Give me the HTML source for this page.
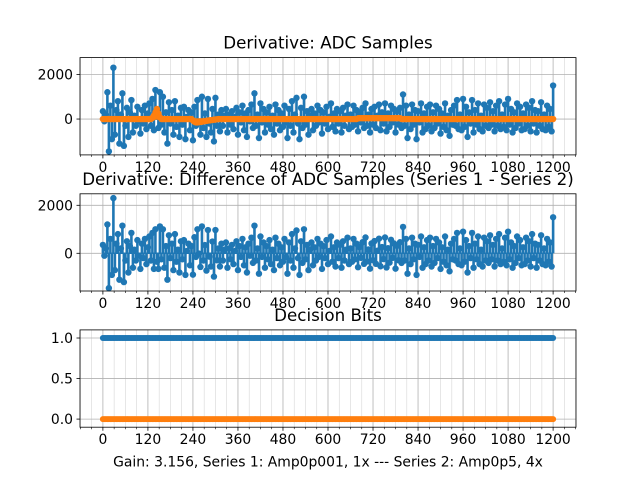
<!DOCTYPE html>
<html><head><meta charset="utf-8"><style>
body{margin:0;background:#fff}
svg{display:block;font-family:"DejaVu Sans","Liberation Sans",sans-serif}
</style></head><body>
<svg id="fig" width="640" height="480" viewBox="0 0 640 480" xmlns="http://www.w3.org/2000/svg"></svg>
<script>
const sampleStep = 4;
const adcSeries1 = [350,-100,200,1200,-1450,600,-900,2300,-700,400,800,-1100,200,1150,-1200,-300,500,-800,300,850,
-600,150,-300,550,-100,-650,400,-200,600,-450,250,700,-300,900,-500,1300,100,-400,1200,-250,
1000,-600,300,-1100,750,-200,400,-700,800,-350,150,-800,500,-250,550,-900,100,400,-500,300,
-950,550,-300,850,-150,-700,1000,-400,250,-800,900,-200,-600,450,-1000,950,-300,200,-550,400,
-300,150,450,-600,200,-250,350,-450,100,500,-700,300,-150,600,-500,250,-800,400,-100,650,
-400,1150,-300,200,-850,700,-150,450,-600,300,-250,550,-450,150,-700,650,-200,400,-500,250,
-350,600,-150,-850,450,-300,800,-600,200,950,-200,-900,500,-400,1000,-250,350,-700,150,450,
-500,250,-300,600,-150,400,-650,300,-200,550,-450,100,700,-350,250,-550,450,-200,350,-600,
500,-300,150,650,-450,200,-350,600,-250,400,-550,300,-150,500,-400,700,-300,200,-600,450,
-250,550,-400,150,650,-500,300,-200,700,-550,250,-350,600,-150,450,-600,350,-250,500,-400,
1100,-300,600,-850,200,-450,650,-250,400,-900,350,-150,700,-600,250,-450,550,-300,650,-550,
300,-400,600,-200,450,-650,250,-350,700,-500,150,-750,400,-250,600,-300,850,-450,200,-500,
900,-350,550,-800,300,-200,850,-600,400,-250,700,-450,150,-550,650,-300,500,-400,750,-250,
350,-550,600,-300,800,-450,200,-350,650,-500,900,-250,450,-600,300,-400,700,-200,550,-500,
250,-450,650,-300,500,-550,800,-200,400,-600,350,-300,750,-450,200,-500,600,-350,450,-550,
1500];
const adcSeries2 = [0,0,0,0,0,0,0,0,0,0,0,0,0,0,0,0,0,0,0,0,
0,0,0,0,0,0,0,0,0,0,0,0,0,50,150,300,450,250,80,0,
0,0,0,0,0,0,0,0,0,0,0,0,0,0,0,0,0,0,0,0,
-60,-120,-150,-150,-140,-130,-120,-100,-90,-80,-70,-60,-50,-40,-30,-20,-10,0,0,0,
0,0,0,0,0,0,0,0,0,0,0,0,0,0,0,0,0,0,0,0,
0,0,0,0,0,0,0,0,0,0,0,0,0,0,0,0,0,0,0,0,
0,0,0,0,0,0,0,0,0,0,0,0,0,0,0,0,0,0,0,0,
0,0,0,0,0,0,0,0,0,0,0,0,0,0,0,0,0,0,0,0,
0,0,0,0,0,0,0,0,0,0,30,40,40,40,40,40,40,40,40,40,
40,40,40,40,40,40,40,40,40,40,40,40,40,40,40,40,40,40,40,0,
0,0,0,0,0,0,0,0,0,0,0,0,0,0,0,0,0,0,0,0,
0,0,0,0,0,0,0,0,0,0,0,0,0,0,0,0,0,0,0,0,
0,0,0,0,0,0,0,0,0,0,0,0,0,0,0,0,0,0,0,0,
0,0,0,0,0,0,0,0,0,0,0,0,0,0,0,0,0,0,0,0,
0,0,0,0,0,0,0,0,0,0,0,0,0,0,0,0,0,0,0,0,
0];
const bitsSeries1Value = 1;
const bitsSeries2Value = 0;
const xTicks = [0,120,240,360,480,600,720,840,960,1080,1200];
const yTicks1 = [0,2000];
const yTicks2 = [0,2000];
const yTicks3 = [0.0,0.5,1.0];
const yTickLabels3 = ["0.0","0.5","1.0"];

const NS="http://www.w3.org/2000/svg";
const fig=document.getElementById('fig');
function mk(tag,attrs,parent){const e=document.createElementNS(NS,tag);for(const k in attrs)e.setAttribute(k,attrs[k]);(parent||fig).appendChild(e);return e;}
const L=80,R=576,X0=-61,X1=1261;
const sx=v=>L+(v-X0)/(X1-X0)*(R-L);
const C0="#1f77b4",C1="#ff7f0e";

function axes(top,bot,y0,y1,yt,ytl,title,name){
  const g=mk('g',{});
  
  
  const sy=v=>bot-(v-y0)/(y1-y0)*(bot-top);
  for(let v=-60;v<=1260;v+=30){ if(v%120===0)continue;
    const m=mk('line',{x1:sx(v),x2:sx(v),y1:top,y2:bot,stroke:'#b0b0b0','stroke-width':0.6,'stroke-opacity':0.5},g);
    
    
    mk('line',{x1:sx(v),x2:sx(v),y1:bot,y2:bot+2,stroke:'#000','stroke-width':0.6},g);
  }
  xTicks.forEach(v=>{
    const gl=mk('line',{x1:sx(v),x2:sx(v),y1:top,y2:bot,stroke:'#b0b0b0','stroke-width':0.8},g);
    
    
    mk('line',{x1:sx(v),x2:sx(v),y1:bot,y2:bot+3.5,stroke:'#000','stroke-width':0.8},g);
    const t=mk('text',{x:sx(v),y:bot+17,'text-anchor':'middle','font-size':13.9,fill:'#000'},g);
    t.textContent=v;
    
    
  });
  yt.forEach((v,i)=>{
    const gl=mk('line',{x1:L,x2:R,y1:sy(v),y2:sy(v),stroke:'#b0b0b0','stroke-width':0.8},g);
    
    
    mk('line',{x1:L-3.5,x2:L,y1:sy(v),y2:sy(v),stroke:'#000','stroke-width':0.8},g);
    const t=mk('text',{x:L-7,y:sy(v)+5,'text-anchor':'end','font-size':13.9,fill:'#000'},g);
    t.textContent=ytl?ytl[i]:v;
    
    
  });
  const tt=mk('text',{x:(L+R)/2,y:top-9,'text-anchor':'middle','font-size':16.7,fill:'#000'},g);
  tt.textContent=title;
  
  
  return {g,sy,top,bot};
}
function frame(a){
  const f=mk('rect',{x:L,y:a.top,width:R-L,height:a.bot-a.top,fill:'none',stroke:'#000','stroke-width':0.8},a.g);
  
  
}
function stems(a,vals,color,name,sw){
  const g=mk('g',{},a.g);
  
  
  vals.forEach((v,i)=>{
    const x=sx(i*sampleStep);
    mk('line',{x1:x,x2:x,y1:a.sy(0),y2:a.sy(v),stroke:color,'stroke-width':sw},g);
  });
  mk('line',{x1:sx(0),x2:sx((vals.length-1)*sampleStep),y1:a.sy(0),y2:a.sy(0),stroke:color,'stroke-width':1.5},g);
  vals.forEach((v,i)=>{
    const c=mk('circle',{cx:sx(i*sampleStep),cy:a.sy(v),r:3.2,fill:color},g);
    
    
  });
}
const a1=axes(57.6,154.9,-1606,2752,yTicks1,null,'Derivative: ADC Samples','adc-samples-plot');
stems(a1,adcSeries1,C0,'series1-stems',2.6);
stems(a1,adcSeries2,C1,'series2-stems',1.5);
frame(a1);

const diffSeries=adcSeries1.map((v,i)=>v-adcSeries2[i]);
const a2=axes(193.8,291.0,-1571,2479,yTicks2,null,'Derivative: Difference of ADC Samples (Series 1 - Series 2)','difference-plot');
stems(a2,diffSeries,C0,'difference-stems',2.6);
frame(a2);

const a3=axes(329.9,427.2,-0.1,1.1,yTicks3,yTickLabels3,'Decision Bits','decision-bits-plot');
[[bitsSeries1Value,C0,'bits-series1'],[bitsSeries2Value,C1,'bits-series2']].forEach(([val,col,nm])=>{
  const g=mk('g',{},a3.g);
  
  
  mk('line',{x1:sx(0),x2:sx(1200),y1:a3.sy(val),y2:a3.sy(val),stroke:col,'stroke-width':1.5},g);
  adcSeries1.forEach((_,i)=>{
    const c=mk('circle',{cx:sx(i*sampleStep),cy:a3.sy(val),r:3,fill:col},g);
    
    
  });
});
frame(a3);
const xl=mk('text',{x:(L+R)/2,y:466.5,'text-anchor':'middle','font-size':13.9,fill:'#000'});
xl.textContent='Gain: 3.156, Series 1: Amp0p001, 1x --- Series 2: Amp0p5, 4x';


</script>
</body></html>
